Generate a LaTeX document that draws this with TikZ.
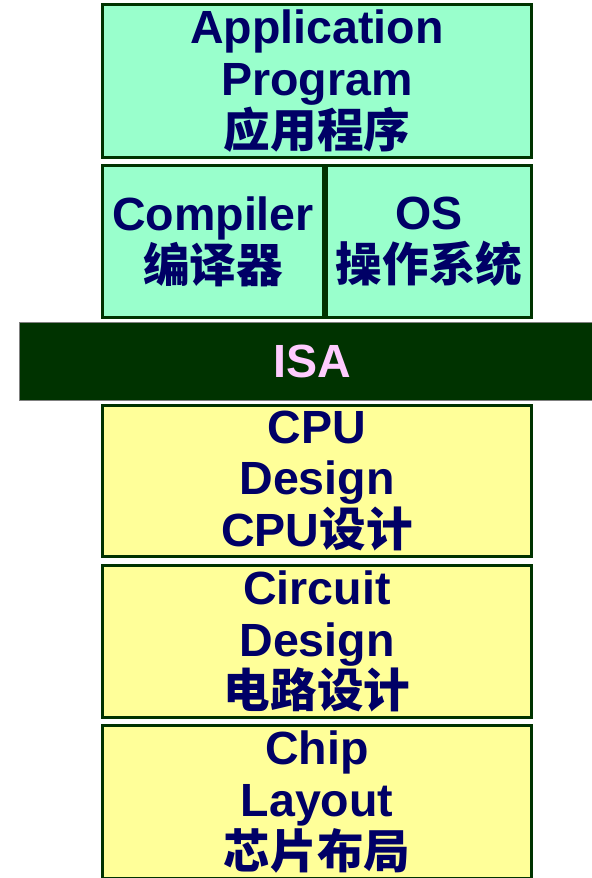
\documentclass[tikz,border=0pt]{standalone}
\usepackage{fontspec}
\usepackage{xcolor}
\setmainfont{Liberation Sans}
\newfontfamily\zhfont{Noto Sans CJK SC}
\newcommand{\zh}[1]{{\zhfont\bfseries #1}}

\definecolor{mint}{HTML}{99FFCC}
\definecolor{paleyellow}{HTML}{FFFF99}
\definecolor{darkgreen}{HTML}{003300}
\definecolor{navytext}{HTML}{000066}
\definecolor{isapink}{HTML}{FFCCFF}

\begin{document}
\begin{tikzpicture}[x=0.02cm, y=-0.02cm,
    every node/.style={rectangle, align=center, inner sep=0pt, font=\fontsize{26.5pt}{29.5pt}\selectfont\bfseries},
    layer/.style={draw=darkgreen, line width=0.06cm, text=navytext},
    sw/.style={layer, fill=mint},
    hw/.style={layer, fill=paleyellow}]
        \useasboundingbox (0,0) rectangle (591,878);
        \node (app) [sw, minimum width=8.58cm, minimum height=3.06cm] at (317,81) {Application\\Program\\\zh{应用程序}};
        \node (compiler) [sw, minimum width=4.42cm, minimum height=3.04cm] at (213,241.5) {Compiler\\\zh{编译器}};
        \node (os) [sw, minimum width=4.1cm, minimum height=3.04cm] at (429,241.5) {OS\\\zh{操作系统}};
        \node (isa) [fill=darkgreen, draw=gray, line width=0.4pt, text=isapink, minimum width=11.7cm, minimum height=1.56cm] at (312,361) {ISA};
        \node (cpu) [hw, minimum width=8.58cm, minimum height=3.02cm] at (317,481) {CPU\\Design\\CPU\zh{设计}};
        \node (circuit) [hw, minimum width=8.58cm, minimum height=3.04cm] at (317,641.5) {Circuit\\Design\\\zh{电路设计}};
        \node (chip) [hw, minimum width=8.58cm, minimum height=3.06cm] at (317,802) {Chip\\Layout\\\zh{芯片布局}};
    \end{tikzpicture}
\end{document}
